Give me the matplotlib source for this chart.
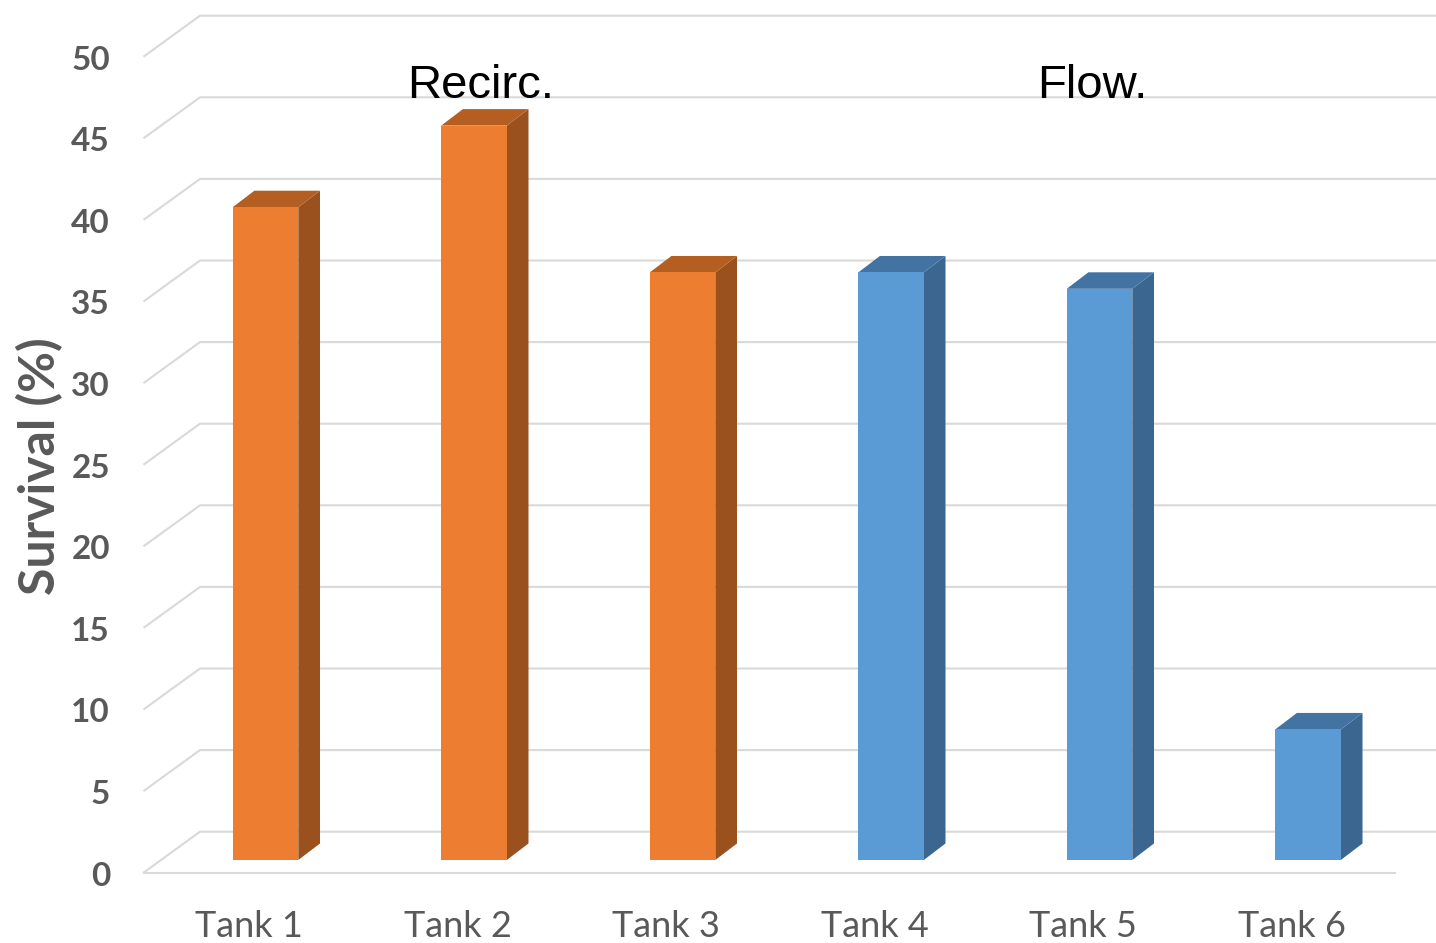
import matplotlib
matplotlib.use("Agg")
import matplotlib.pyplot as plt
from matplotlib.patches import Polygon

# ---- data ----
tanks = ["Tank 1", "Tank 2", "Tank 3", "Tank 4", "Tank 5", "Tank 6"]
survival = [40, 45, 36, 36, 35, 8]
system = ["Recirc.", "Recirc.", "Recirc.", "Flow.", "Flow.", "Flow."]
y_ticks = [0, 5, 10, 15, 20, 25, 30, 35, 40, 45, 50]
group_labels = ["Recirc.", "Flow."]

# ---- styling ----
face = {"Recirc.": "#ED7D31", "Flow.": "#5B9BD5"}
top = {"Recirc.": "#B55E21", "Flow.": "#4373A3"}
side = {"Recirc.": "#9B511D", "Flow.": "#3A6690"}
grid_c = "#D9D9D9"
tick_c = "#595959"

# pixel geometry of the pseudo-3D frame
PX_X = 208.5        # pixels per category
PX_Y = 16.32        # pixels per value unit
X0_PX = 265.5       # centre of first bar front face
Y0_PX = 860.0       # value 0 on bar front plane (from top)
W, H = 1436, 943

def px_dx(p):
    return p / PX_X

def px_dy(p):
    return p / PX_Y

bar_w = px_dx(65.6)
depth_dx, depth_dy = px_dx(21.7), px_dy(16.5)
wall_dy = px_dy(28.3)        # back wall relative to bar front plane
front_dy = -px_dy(12.7)      # front edge relative to bar front plane
front_dx = -px_dx(16.5)
wall_left = px_dx(200 - X0_PX)
front_left = px_dx(143.5 - X0_PX)
front_right = px_dx(1395 - X0_PX)

fig = plt.figure(figsize=(W / 100, H / 100), dpi=100)
ax = fig.add_axes([0, 0, 1, 1])
ax.set_xlim(px_dx(-X0_PX), px_dx(W - X0_PX))
ax.set_ylim(px_dy(Y0_PX - H), px_dy(Y0_PX))
ax.axis("off")

# back wall gridlines with their floor-level diagonals
for v in y_ticks:
    yb = v + wall_dy
    yf = v + front_dy
    ax.plot([front_left, wall_left, px_dx(W - X0_PX) + 1], [yf, yb, yb],
            color=grid_c, lw=1.5, zorder=1, solid_capstyle="butt")
    ax.text(px_dx(110 - X0_PX), yf - px_dy(13), str(v), ha="right",
            va="baseline", fontsize=24, fontweight="bold", color=tick_c,
            family="Lato")

# front edge of the floor
ax.plot([front_left, front_right], [front_dy, front_dy],
        color=grid_c, lw=1.5, zorder=1)

# bars
for i, (v, g) in enumerate(zip(survival, system)):
    x0 = i - bar_w / 2
    x1 = i + bar_w / 2
    ax.add_patch(Polygon([(x1, 0), (x1 + depth_dx, depth_dy),
                          (x1 + depth_dx, v + depth_dy), (x1, v)],
                         closed=True, fc=side[g], ec="none", zorder=3))
    ax.add_patch(Polygon([(x0, v), (x1, v), (x1 + depth_dx, v + depth_dy),
                          (x0 + depth_dx, v + depth_dy)],
                         closed=True, fc=top[g], ec="none", zorder=3))
    ax.add_patch(Polygon([(x0, 0), (x1, 0), (x1, v), (x0, v)],
                         closed=True, fc=face[g], ec="none", zorder=4))
    ax.text(i + front_dx, px_dy(Y0_PX - 937), tanks[i], ha="center",
            va="baseline", fontsize=26, color=tick_c, family="Lato")

# group labels
group_x = {"Recirc.": px_dx(481 - X0_PX), "Flow.": px_dx(1092 - X0_PX)}
for g in group_labels:
    ax.text(group_x[g], px_dy(Y0_PX - 98), g, ha="center", va="baseline",
            fontsize=34, color="black", family="Liberation Sans")

# axis title
ax.text(px_dx(40 - X0_PX), px_dy(Y0_PX - 466), "Survival (%)", rotation=90,
        ha="center", va="center", fontsize=36, fontweight="bold",
        color=tick_c, family="Lato")

fig.savefig("out.png", dpi=100)
